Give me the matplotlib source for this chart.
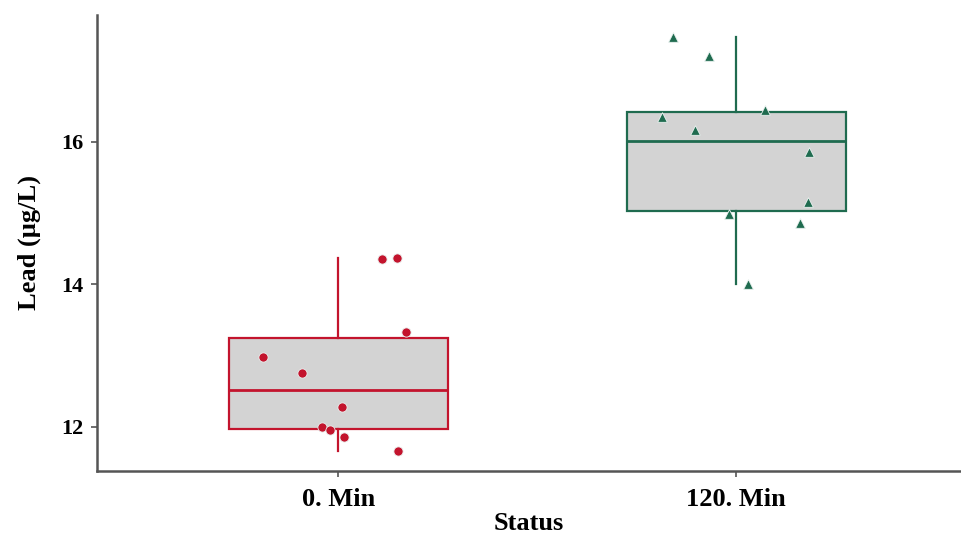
import matplotlib
matplotlib.use('Agg')
import matplotlib.pyplot as plt
import numpy as np

plt.rcParams['font.family'] = ['Liberation Serif', 'DejaVu Serif']
plt.rcParams['font.weight'] = 'bold'

# data
groups = ['0. Min', '120. Min']
min0_vals = [12.98, 12.76, 12.28, 12.00, 11.96, 11.86, 11.66, 14.36, 14.37, 13.33]
min0_jit = [-0.19, -0.09, 0.01, -0.04, -0.02, 0.015, 0.15, 0.11, 0.148, 0.17]
min120_vals = [17.47, 17.21, 16.35, 16.17, 16.45, 15.86, 15.15, 14.99, 14.86, 14.00]
min120_jit = [-0.158, -0.068, -0.186, -0.103, 0.073, 0.183, 0.181, -0.018, 0.161, 0.03]

red = '#C3142D'
green = '#1F6B4F'
colors = [red, green]
markers = ['o', '^']
sizes = [44, 48]

fig = plt.figure(figsize=(9.61, 5.35), dpi=100)
ax = fig.add_axes([97/961, (535-471)/535, 1 - 97/961, (471-15)/535])

data = [min0_vals, min120_vals]
jits = [min0_jit, min120_jit]
for i, (vals, jit) in enumerate(zip(data, jits)):
    pos = i + 1
    c = colors[i]
    ax.boxplot([vals], positions=[pos], widths=0.55, patch_artist=True,
               showfliers=False, showcaps=False,
               boxprops=dict(facecolor='#D3D3D3', edgecolor=c, linewidth=1.6),
               medianprops=dict(color=c, linewidth=2),
               whiskerprops=dict(color=c, linewidth=1.6))
    ax.scatter(pos + np.array(jit), vals, marker=markers[i], s=sizes[i], color=c,
               edgecolors='#EAF2F0', linewidths=0.6, zorder=5)

ax.set_xlim(0.394, 2.565)
ax.set_ylim(11.38, 17.78)
ax.set_yticks([12, 14, 16])
ax.set_xticks([1, 2])
ax.set_xticklabels(groups, fontsize=19, fontweight='bold')
ax.tick_params(axis='y', labelsize=16, length=4, width=1.2, color='#555555', pad=6)
ax.tick_params(axis='x', length=4, width=1.2, color='#555555', pad=8)
for lab in ax.get_yticklabels():
    lab.set_fontweight('bold')

for s in ['top', 'right']:
    ax.spines[s].set_visible(False)
for s in ['left', 'bottom']:
    ax.spines[s].set_color('#555555')
    ax.spines[s].set_linewidth(1.8)

ax.set_ylabel('Lead (µg/L)', fontsize=19, fontweight='bold', labelpad=14)
# the reference crops this label at the bottom edge; keep it just inside
ax.set_xlabel('Status', fontsize=19, fontweight='bold', labelpad=1)

fig.savefig('out.png', dpi=100)
